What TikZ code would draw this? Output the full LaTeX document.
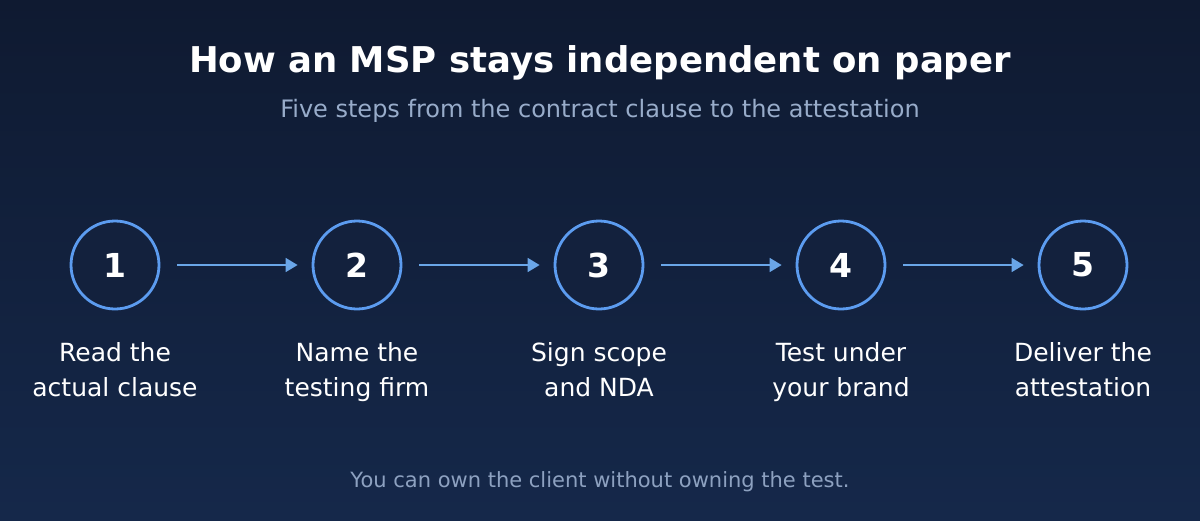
\documentclass[tikz,border=0pt]{standalone}
\usepackage{fontspec}
\setmainfont{DejaVu Sans}
\usetikzlibrary{positioning, arrows.meta}
\definecolor{navytop}{HTML}{0F1A31}
\definecolor{navybot}{HTML}{15284A}
\definecolor{ringblue}{HTML}{5C9CF0}
\definecolor{arrowblue}{HTML}{6AA6E8}
\definecolor{subgray}{HTML}{98ACCA}
\definecolor{footgray}{HTML}{8DA1C0}
\definecolor{circlefill}{HTML}{13213D}
\tikzset{
	stepnode/.style={circle, draw=ringblue, line width=2.8pt, fill=circlefill,
			minimum size=88pt, inner sep=0pt, text=white,
			font=\fontsize{33}{40}\selectfont\bfseries}
}
\tikzset{
	steptext/.style={align=center, text=white, anchor=base, font=\fontsize{25}{35}\selectfont}
}
\tikzset{
	steparrow/.style={arrowblue, line width=1.6pt, -{Triangle[length=12pt,width=14pt]},
			shorten <=17pt, shorten >=14pt}
}
\begin{document}
\begin{tikzpicture}[x=1pt, y=-1pt]

			\shade[top color=navytop, bottom color=navybot] (0,0) rectangle (1200,520);
			\useasboundingbox (0,0) rectangle (1200,520);

			\node[text=white, font=\fontsize{35.5}{44}\selectfont\bfseries, anchor=base] (title) at (600,72) {How an MSP stays independent on paper};
			\node[text=subgray, font=\fontsize{24}{28}\selectfont, anchor=base] (subtitle) at (600,117) {Five steps from the contract clause to the attestation};

			\begin{scope}
				\node[stepnode] (c1) at (115,265) {1};
				\node[stepnode] (c2) at (357,265) {2};
				\node[stepnode] (c3) at (599,265) {3};
				\node[stepnode] (c4) at (841,265) {4};
				\node[stepnode] (c5) at (1083,265) {5};
			\end{scope}

			\begin{scope}
				\draw[steparrow] (c1) -- (c2);
				\draw[steparrow] (c2) -- (c3);
				\draw[steparrow] (c3) -- (c4);
				\draw[steparrow] (c4) -- (c5);
			\end{scope}

			\begin{scope}
				\node[steptext] (l1) at (115,396) {Read the\\actual clause};
				\node[steptext] (l2) at (357,396) {Name the\\testing firm};
				\node[steptext] (l3) at (599,396) {Sign scope\\and NDA};
				\node[steptext] (l4) at (841,396) {Test under\\your brand};
				\node[steptext] (l5) at (1083,396) {Deliver the\\attestation};
			\end{scope}

			\node[text=footgray, font=\fontsize{21}{24}\selectfont, anchor=base] (footer) at (600,487) {You can own the client without owning the test.};

		\end{tikzpicture}
\end{document}
